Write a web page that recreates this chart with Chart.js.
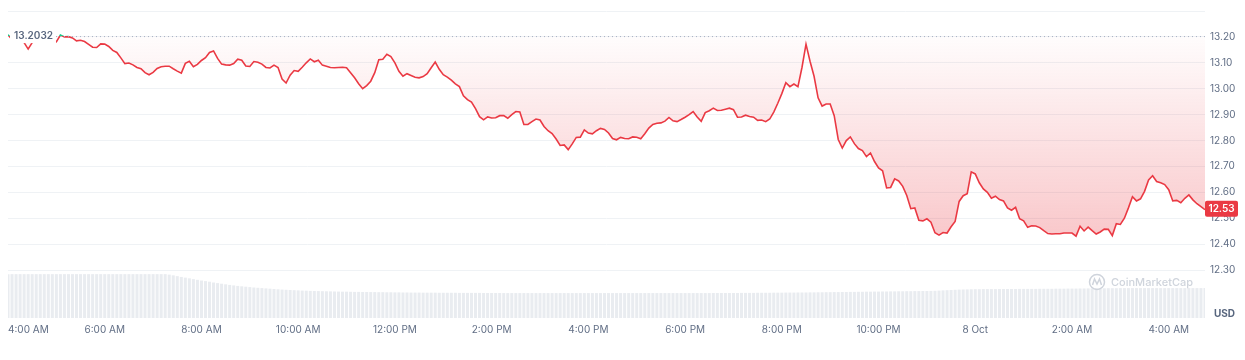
<!DOCTYPE html>
<html lang="en">
<head>
<meta charset="utf-8">
<title>Price chart</title>
<script src="https://cdn.jsdelivr.net/npm/chart.js@4.4.1/dist/chart.umd.min.js"></script>
<style>
  html, body { margin: 0; padding: 0; background: #fff; }
</style>
</head>
<body>
<canvas id="chart" width="1245" height="360"></canvas>
<script>
// one point every 5 minutes, starting 4:00 AM
var STEP_MIN = 5;
var openPrice = 13.2032;
var lastPrice = 12.537;
var lastPriceLabel = '12.53';

var prices = [
  13.208,13.190,13.185,13.183,13.178,13.153,13.178,13.185,13.192,13.200,
  13.210,13.185,13.181,13.207,13.200,13.201,13.196,13.185,13.187,13.182,
  13.171,13.160,13.159,13.173,13.172,13.163,13.148,13.140,13.119,13.097,
  13.099,13.092,13.082,13.077,13.062,13.054,13.063,13.078,13.085,13.087,
  13.087,13.077,13.068,13.060,13.098,13.106,13.085,13.094,13.109,13.120,
  13.140,13.146,13.117,13.095,13.092,13.091,13.097,13.114,13.110,13.088,
  13.086,13.105,13.102,13.095,13.082,13.080,13.091,13.082,13.037,13.022,
  13.052,13.070,13.067,13.083,13.100,13.115,13.104,13.110,13.091,13.087,
  13.082,13.081,13.082,13.083,13.081,13.062,13.042,13.019,13.000,13.012,
  13.029,13.062,13.112,13.114,13.133,13.124,13.100,13.067,13.048,13.058,
  13.051,13.044,13.042,13.047,13.058,13.081,13.103,13.075,13.054,13.045,
  13.033,13.019,13.008,12.973,12.958,12.948,12.923,12.892,12.880,12.891,
  12.887,12.888,12.896,12.896,12.886,12.900,12.912,12.910,12.862,12.862,
  12.873,12.883,12.879,12.854,12.838,12.827,12.806,12.781,12.783,12.765,
  12.787,12.812,12.813,12.841,12.829,12.826,12.838,12.847,12.843,12.829,
  12.808,12.803,12.812,12.808,12.807,12.814,12.813,12.807,12.826,12.848,
  12.862,12.867,12.868,12.875,12.889,12.876,12.873,12.881,12.890,12.900,
  12.912,12.891,12.874,12.908,12.915,12.925,12.916,12.917,12.921,12.925,
  12.919,12.890,12.891,12.898,12.893,12.890,12.878,12.879,12.873,12.883,
  12.910,12.944,12.981,13.023,13.008,13.018,13.008,13.082,13.172,13.106,
  13.048,12.965,12.933,12.941,12.941,12.896,12.804,12.771,12.800,12.814,
  12.788,12.769,12.761,12.738,12.752,12.719,12.694,12.683,12.617,12.619,
  12.652,12.644,12.623,12.588,12.537,12.540,12.492,12.490,12.498,12.485,
  12.444,12.435,12.445,12.443,12.467,12.488,12.565,12.587,12.595,12.679,
  12.671,12.637,12.613,12.600,12.577,12.585,12.572,12.567,12.540,12.531,
  12.542,12.498,12.490,12.465,12.471,12.470,12.464,12.452,12.441,12.439,
  12.440,12.440,12.443,12.443,12.443,12.431,12.469,12.451,12.466,12.452,
  12.439,12.447,12.458,12.457,12.433,12.479,12.476,12.500,12.540,12.583,
  12.567,12.575,12.604,12.648,12.664,12.642,12.637,12.630,12.610,12.567,
  12.569,12.560,12.577,12.590,12.571,12.556,12.545,12.533
];

// volume bars (relative units)
var volumes = [
  44.0,44.0,44.0,44.0,44.0,44.0,44.0,44.0,44.0,44.0,
  44.0,44.0,44.0,44.0,44.0,44.0,44.0,44.0,44.0,44.0,
  44.0,44.0,44.0,44.0,44.0,44.0,44.0,44.0,44.0,44.0,
  44.0,44.0,44.0,44.0,44.0,44.0,44.0,44.0,44.0,44.0,
  43.5,42.8,42.0,41.2,40.5,39.8,39.0,38.3,37.6,37.0,
  36.4,35.6,35.0,34.4,33.8,33.2,32.7,32.2,31.8,31.4,
  31.0,30.6,30.3,30.0,29.7,29.4,29.1,28.8,28.5,28.3,
  28.1,27.9,27.7,27.5,27.4,27.2,27.1,27.0,26.9,26.8,
  26.7,26.6,26.5,26.4,26.4,26.3,26.2,26.2,26.1,26.1,
  26.0,26.0,25.9,25.9,25.8,25.8,25.7,25.7,25.6,25.6,
  25.5,25.5,25.5,25.4,25.4,25.4,25.4,25.3,25.3,25.3,
  25.3,25.3,25.2,25.2,25.2,25.2,25.2,25.2,25.1,25.1,
  25.1,25.1,25.1,25.0,25.0,25.0,25.0,25.0,25.0,25.0,
  25.0,25.0,25.0,25.0,25.0,25.0,25.0,25.0,25.0,25.0,
  25.0,25.0,25.0,25.0,25.0,25.0,25.0,25.0,25.0,25.0,
  25.0,25.0,25.0,25.0,25.0,25.0,25.0,25.0,25.0,25.0,
  25.0,25.0,25.0,25.0,25.0,25.0,25.0,25.0,25.0,25.0,
  25.0,25.0,25.0,25.0,25.0,25.1,25.1,25.1,25.1,25.1,
  25.1,25.1,25.2,25.2,25.2,25.2,25.3,25.3,25.3,25.3,
  25.4,25.4,25.4,25.5,25.5,25.5,25.6,25.6,25.6,25.7,
  25.7,25.8,25.8,25.9,25.9,26.0,26.0,26.1,26.1,26.2,
  26.2,26.3,26.3,26.4,26.4,26.5,26.5,26.6,26.6,26.7,
  26.7,26.8,26.8,26.9,26.9,27.0,27.0,27.1,27.1,27.2,
  27.3,27.5,27.7,27.9,28.1,28.3,28.5,28.6,28.7,28.8,
  28.9,28.9,29.0,29.0,29.0,29.0,29.1,29.1,29.1,29.1,
  29.1,29.2,29.2,29.2,29.2,29.2,29.3,29.3,29.3,29.3,
  29.4,29.4,29.4,29.5,29.5,29.5,29.6,29.6,29.7,29.7,
  29.8,29.8,29.8,29.9,29.9,29.9,30.0,30.0,30.0,30.0,
  30.0,30.0,30.0,30.0,30.0,30.0,30.0,30.0,30.0,30.0,
  30.0,30.0,30.0,30.0,30.0,30.0,30.0,30.0
];

var timeTicks = [0, 120, 240, 360, 480, 600, 720, 840, 960, 1080, 1200, 1320, 1440];
var timeLabels = ['4:00 AM', '6:00 AM', '8:00 AM', '10:00 AM', '12:00 PM', '2:00 PM', '4:00 PM',
                  '6:00 PM', '8:00 PM', '10:00 PM', '8 Oct', '2:00 AM', '4:00 AM'];
var priceTicks = [12.3, 12.4, 12.5, 12.6, 12.7, 12.8, 12.9, 13.0, 13.1, 13.2, 13.3];
var priceLabels = ['12.30', '12.40', '12.50', '12.60', '12.70', '12.80', '12.90', '13.00', '13.10', '13.20', ''];

var RED = '#ea3943';
var GREEN = '#16c784';
var GREY = '#616e85';
var FONT = 'Inter, "DejaVu Sans", sans-serif';

var lastX = (prices.length - 1) * STEP_MIN;
var pricePts = prices.map(function (p, i) { return {x: i * STEP_MIN, y: p}; });
var volPts = volumes.map(function (v, i) { return {x: i * STEP_MIN, y: v}; });

var overlay = {
    id: 'overlay',
    afterDatasetsDraw: function (chart) {
        var c = chart.ctx, a = chart.chartArea, y = chart.scales.y;
        var by = y.getPixelForValue(openPrice);
        c.save();
        // dotted open price line
        c.strokeStyle = '#a6b0c3';
        c.lineWidth = 1;
        c.setLineDash([1, 3]);
        c.beginPath();
        c.moveTo(a.left + 40, by + 0.5);
        c.lineTo(a.right, by + 0.5);
        c.stroke();
        c.setLineDash([]);
        // open price label
        c.font = '600 10px ' + FONT;
        var txt = openPrice.toFixed(4);
        var w = c.measureText(txt).width;
        c.fillStyle = '#fff';
        c.fillRect(a.left + 2, by - 7, w + 7, 14);
        c.fillStyle = '#58667e';
        c.textBaseline = 'middle';
        c.fillText(txt, a.left + 6, by);

        // watermark
        var wx = a.right - 108, wy = a.bottom - 36;
        c.strokeStyle = '#cfd4dc';
        c.lineWidth = 1.5;
        c.beginPath();
        c.arc(wx, wy, 7.5, 0, Math.PI * 2);
        c.stroke();
        c.beginPath();
        c.moveTo(wx - 4.5, wy + 3);
        c.lineTo(wx - 2.5, wy - 3);
        c.lineTo(wx, wy + 2);
        c.lineTo(wx + 2.5, wy - 3);
        c.lineTo(wx + 4.5, wy + 3);
        c.stroke();
        c.fillStyle = '#cfd4dc';
        c.font = '500 11px ' + FONT;
        c.fillText('CoinMarketCap', wx + 14, wy + 1);
        c.restore();
    },
    afterDraw: function (chart) {
        var c = chart.ctx, a = chart.chartArea, y = chart.scales.y;
        var py = y.getPixelForValue(lastPrice);
        c.save();
        c.fillStyle = RED;
        c.beginPath();
        c.roundRect(a.right, py - 8, 33, 16, 2);
        c.fill();
        c.fillStyle = '#fff';
        c.font = '600 10px ' + FONT;
        c.textAlign = 'center';
        c.textBaseline = 'middle';
        c.fillText(lastPriceLabel, a.right + 16.5, py + 0.5);
        c.fillStyle = '#58667e';
        c.font = '700 10px ' + FONT;
        c.textAlign = 'left';
        c.fillText('USD', a.right + 9, a.bottom - 4);
        c.restore();
    }
};

var chart = new Chart(document.getElementById('chart'), {
    type: 'line',
    data: {
        datasets: [
            {
                type: 'line',
                data: pricePts,
                borderColor: RED,
                borderWidth: 1.6,
                pointRadius: 0,
                tension: 0,
                order: 1,
                fill: {target: {value: openPrice}, above: 'rgba(22,199,132,0.08)', below: 'rgba(234,57,67,0.1)'}
            },
            {
                type: 'bar',
                data: volPts,
                yAxisID: 'yv',
                backgroundColor: '#e9ecf0',
                barPercentage: 0.75,
                categoryPercentage: 1,
                order: 2
            }
        ]
    },
    options: {
        responsive: false,
        animation: false,
        layout: {padding: {left: 8, top: 10, right: 0, bottom: 0}},
        plugins: {legend: {display: false}, tooltip: {enabled: false}},
        scales: {
            x: {
                type: 'linear',
                min: 0,
                max: lastX,
                offset: false,
                grid: {display: false, drawTicks: false},
                border: {display: false},
                afterBuildTicks: function (scale) {
                    scale.ticks = timeTicks.map(function (v) { return {value: v}; }).concat([{value: lastX}]);
                },
                afterFit: function (scale) { scale.height = 42; },
                ticks: {
                    autoSkip: false,
                    maxRotation: 0,
                    align: 'inner',
                    padding: 6,
                    color: GREY,
                    font: {family: FONT, size: 10},
                    callback: function (v, i) { return timeLabels[i] || ''; }
                }
            },
            y: {
                position: 'right',
                min: 12.115,
                max: 13.3,
                grid: {color: '#eff2f5', drawTicks: false},
                border: {display: false},
                afterBuildTicks: function (scale) {
                    scale.ticks = priceTicks.map(function (v) { return {value: v}; });
                },
                afterFit: function (scale) { scale.width = 40; },
                ticks: {
                    padding: 5,
                    color: GREY,
                    font: {family: FONT, size: 10},
                    callback: function (v, i) { return priceLabels[i]; }
                }
            },
            yv: {
                display: false,
                min: 0,
                max: 308
            }
        }
    },
    plugins: [overlay]
});

// colour the line and the area by the open price level
(function () {
    var a = chart.chartArea, y = chart.scales.y, c = chart.ctx;
    var by = y.getPixelForValue(openPrice);
    var f = (by - a.top) / (a.bottom - a.top);
    var stroke = c.createLinearGradient(0, a.top, 0, a.bottom);
    stroke.addColorStop(0, GREEN);
    stroke.addColorStop(f, GREEN);
    stroke.addColorStop(f, RED);
    stroke.addColorStop(1, RED);
    var area = c.createLinearGradient(0, by, 0, y.getPixelForValue(12.43));
    area.addColorStop(0, 'rgba(234,57,67,0.01)');
    area.addColorStop(1, 'rgba(234,57,67,0.28)');
    var ds = chart.data.datasets[0];
    ds.borderColor = stroke;
    ds.fill = {target: {value: openPrice}, above: 'rgba(22,199,132,0.08)', below: area};
    chart.update('none');
})();
</script>
</body>
</html>
